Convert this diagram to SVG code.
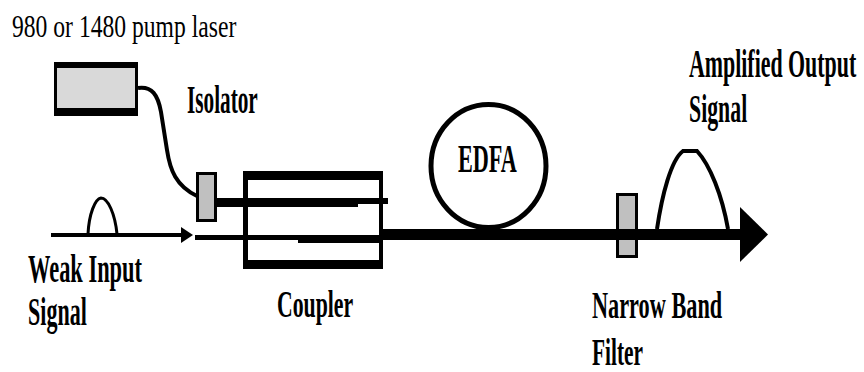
<svg xmlns="http://www.w3.org/2000/svg" width="864" height="372" viewBox="0 0 864 372">
<style>
text{font-family:'Liberation Serif','DejaVu Serif',serif;fill:#000;font-weight:bold;}
text.n{font-weight:normal;}
.lbl{font-size:40px;}
.part{fill:#c0c0c0;stroke:#000;stroke-width:3;}
.blk{fill:#000;}
.fib{fill:none;stroke:#000;stroke-linecap:butt;}
</style>
<rect width="864" height="372" fill="#fff"/>
<g id="pump-laser">
<rect x="55.5" y="63.5" width="81" height="50" fill="#d9d9d9" stroke="#000" stroke-width="3"/>
<rect class="blk" x="54" y="62" width="84" height="6"/>
<rect class="blk" x="54" y="108" width="84" height="8"/>
<text class="n" transform="translate(12,37) scale(0.75,1)" font-size="32" textLength="299" lengthAdjust="spacingAndGlyphs">980 or 1480 pump laser</text>
</g>
<g id="isolator">
<rect class="part" x="197.5" y="173.5" width="18" height="47"/>
<text class="lbl" transform="translate(187,113) scale(0.6,1)" textLength="118" lengthAdjust="spacingAndGlyphs">Isolator</text>
</g>
<g id="coupler">
<rect class="blk" x="243" y="171" width="140" height="9"/>
<rect class="blk" x="243" y="260" width="140" height="9"/>
<rect class="blk" x="243" y="171" width="5" height="98"/>
<rect class="blk" x="379" y="171" width="4" height="98"/>
<text transform="translate(277,317) scale(0.6,1)" font-size="38" textLength="127" lengthAdjust="spacingAndGlyphs">Coupler</text>
</g>
<g id="edfa">
<ellipse cx="488.5" cy="166" rx="57.5" ry="61.5" fill="none" stroke="#000" stroke-width="5"/>
<text transform="translate(458,172) scale(0.55,1)" font-size="39" textLength="107" lengthAdjust="spacingAndGlyphs">EDFA</text>
</g>
<g id="filter">
<rect class="part" x="617.5" y="194.5" width="19" height="62"/>
<text transform="translate(592,318) scale(0.6,1)" font-size="38" textLength="217" lengthAdjust="spacingAndGlyphs">Narrow Band</text>
<text transform="translate(592,365) scale(0.6,1)" font-size="38" textLength="85" lengthAdjust="spacingAndGlyphs">Filter</text>
</g>
<g id="input-signal">
<path class="fib" stroke-width="3" d="M88,234 C89,214 95,199 101,198 C108,198 115,214 117,234"/>
<text class="lbl" transform="translate(28,282) scale(0.6,1)" textLength="190" lengthAdjust="spacingAndGlyphs">Weak Input</text>
<text class="lbl" transform="translate(28,325) scale(0.6,1)" textLength="98" lengthAdjust="spacingAndGlyphs">Signal</text>
</g>
<g id="output-signal">
<path class="fib" stroke-width="4" d="M657,229 C662,195 671,160 683,151 L697,151 C710,165 722,195 728,229"/>
<text class="lbl" transform="translate(689,77) scale(0.55,1)" textLength="304" lengthAdjust="spacingAndGlyphs">Amplified Output</text>
<text class="lbl" transform="translate(689,122) scale(0.6,1)" textLength="97" lengthAdjust="spacingAndGlyphs">Signal</text>
</g>
<g id="connectors">
<path class="fib" stroke-width="4" d="M138,88 C152,86 158,95 161,112 L167,150 C170,170 176,186 197,196"/>
<rect class="blk" x="217" y="198" width="141" height="9"/>
<rect class="blk" x="358" y="198" width="30" height="6"/>
<line class="fib" stroke-width="4" x1="51" y1="235" x2="184" y2="235"/>
<polygon class="blk" points="181,227 193,235 181,243"/>
<rect class="blk" x="195" y="235" width="188" height="5"/>
<rect class="blk" x="298" y="235" width="85" height="8"/>
<rect class="blk" x="383" y="229" width="359" height="11"/>
<polygon class="blk" points="740,207 768,234.5 740,262"/>
</g>
</svg>
